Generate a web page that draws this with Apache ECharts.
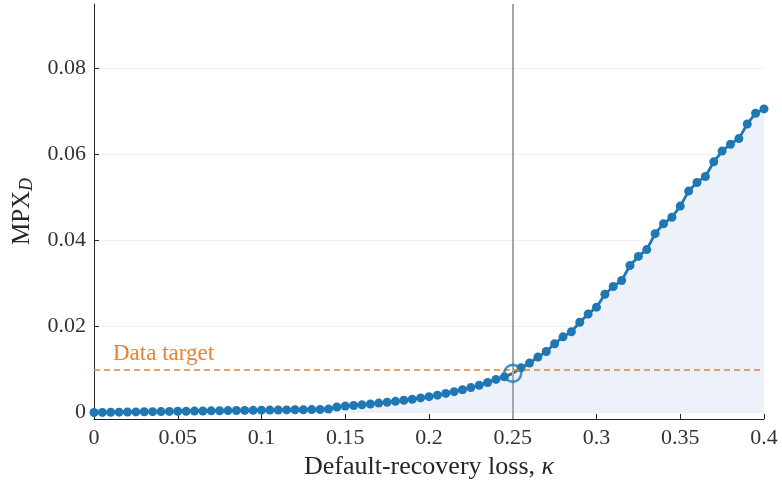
<!DOCTYPE html>
<html>
<head>
<meta charset="utf-8">
<script src="https://cdn.jsdelivr.net/npm/echarts@6/dist/echarts.min.js"></script>
<style>html,body{margin:0;padding:0;background:#fff}#c{width:782px;height:487px}</style>
</head>
<body>
<div id="c"></div>
<script>
const kappa = [0.000,0.005,0.010,0.015,0.020,0.025,0.030,0.035,0.040,0.045,
0.050,0.055,0.060,0.065,0.070,0.075,0.080,0.085,0.090,0.095,
0.100,0.105,0.110,0.115,0.120,0.125,0.130,0.135,0.140,0.145,
0.150,0.155,0.160,0.165,0.170,0.175,0.180,0.185,0.190,0.195,
0.200,0.205,0.210,0.215,0.220,0.225,0.230,0.235,0.240,0.245,
0.250,0.255,0.260,0.265,0.270,0.275,0.280,0.285,0.290,0.295,
0.300,0.305,0.310,0.315,0.320,0.325,0.330,0.335,0.340,0.345,
0.350,0.355,0.360,0.365,0.370,0.375,0.380,0.385,0.390,0.395,0.400];
const mpxD = [0.00000,0.00003,0.00006,0.00009,0.00012,0.00015,0.00018,0.00020,0.00023,0.00026,
0.00029,0.00031,0.00034,0.00037,0.00040,0.00042,0.00045,0.00048,0.00050,0.00052,
0.00055,0.00057,0.00060,0.00062,0.00064,0.00066,0.00069,0.00072,0.00080,0.00130,
0.00150,0.00165,0.00180,0.00200,0.00220,0.00240,0.00260,0.00285,0.00310,0.00340,
0.00370,0.00405,0.00445,0.00485,0.00530,0.00580,0.00635,0.00700,0.00770,0.00830,
0.00910,0.01040,0.01150,0.01290,0.01420,0.01600,0.01760,0.01880,0.02100,0.02290,
0.02450,0.02750,0.02930,0.03070,0.03420,0.03630,0.03790,0.04160,0.04390,0.04540,
0.04800,0.05150,0.05350,0.05490,0.05830,0.06080,0.06240,0.06370,0.06710,0.06960,0.07060];
const dataTarget = 0.01;
const chosenKappa = 0.25;
const chosenMpx = 0.0091;
const xTicks = [0,0.05,0.1,0.15,0.2,0.25,0.3,0.35,0.4];
const yTicks = [0,0.02,0.04,0.06,0.08];

const FONT = 'Liberation Serif';
const BLUE = '#1f77b4';
const ORANGE = '#e8832f';
const lineData = kappa.map((k, i) => k === chosenKappa
  ? {value: [k, mpxD[i]], symbolSize: 0}
  : [k, mpxD[i]]);
const chart = echarts.init(document.getElementById('c'), null, {renderer:'canvas'});
chart.setOption({
  animation: false,
  grid: {left: 94, right: 18, top: 4, bottom: 68},
  xAxis: {
    type: 'value', min: 0, max: 0.4, interval: 0.05,
    axisLine: {show: true, onZero: false, lineStyle: {color: '#262626', width: 1}},
    axisTick: {show: true, inside: true, length: 5, customValues: xTicks, lineStyle: {color: '#262626'}},
    axisLabel: {color: '#333', fontFamily: FONT, fontSize: 22, margin: 8, customValues: xTicks,
      formatter: v => String(+v.toFixed(2))},
    splitLine: {show: false},
    name: 'Default-recovery loss, {k|κ}',
    nameLocation: 'middle', nameGap: 33,
    nameTextStyle: {color: '#262626', fontFamily: FONT, fontSize: 26,
      rich: {k: {fontFamily: FONT, fontSize: 26, fontStyle: 'italic', color: '#262626'}}}
  },
  yAxis: {
    type: 'value', min: -0.0015, max: 0.095,
    axisLine: {show: true, lineStyle: {color: '#262626', width: 1}},
    axisTick: {show: true, inside: true, length: 5, customValues: yTicks, lineStyle: {color: '#262626'}},
    axisLabel: {color: '#333', fontFamily: FONT, fontSize: 22, margin: 8, customValues: yTicks,
      formatter: v => String(+v.toFixed(2))},
    splitLine: {show: true, lineStyle: {color: '#f0f0f0', width: 1}},
    name: 'MPX{d|D}',
    nameLocation: 'middle', nameGap: 58,
    nameTextStyle: {color: '#262626', fontFamily: FONT, fontSize: 25,
      rich: {d: {fontFamily: FONT, fontSize: 18, fontStyle: 'italic', color: '#262626', padding: [10,0,0,0]}}}
  },
  series: [
    {
      type: 'line',
      data: lineData,
      symbol: 'circle', symbolSize: 9,
      lineStyle: {color: BLUE, width: 2.8},
      itemStyle: {color: BLUE},
      areaStyle: {color: '#edf2fa', opacity: 1},
      clip: false,
      z: 3,
      markLine: {
        silent: true, symbol: 'none', animation: false,
        data: [
          {yAxis: dataTarget, lineStyle: {color: ORANGE, type: [6,4], width: 1.5},
            label: {show: true, position: 'insideStartTop', formatter: 'Data target',
              color: ORANGE, fontFamily: FONT, fontSize: 23, distance: [19, 4]}},
          {xAxis: chosenKappa, lineStyle: {color: '#a6a6a6', type: 'solid', width: 2},
            label: {show: false}}
        ]
      }
    },
    {
      type: 'scatter',
      data: [[chosenKappa, chosenMpx]],
      symbol: 'circle', symbolSize: 17,
      itemStyle: {color: 'rgba(255,255,255,0)', borderColor: BLUE, borderWidth: 2.6},
      z: 5
    }
  ]
});
</script>
</body>
</html>
